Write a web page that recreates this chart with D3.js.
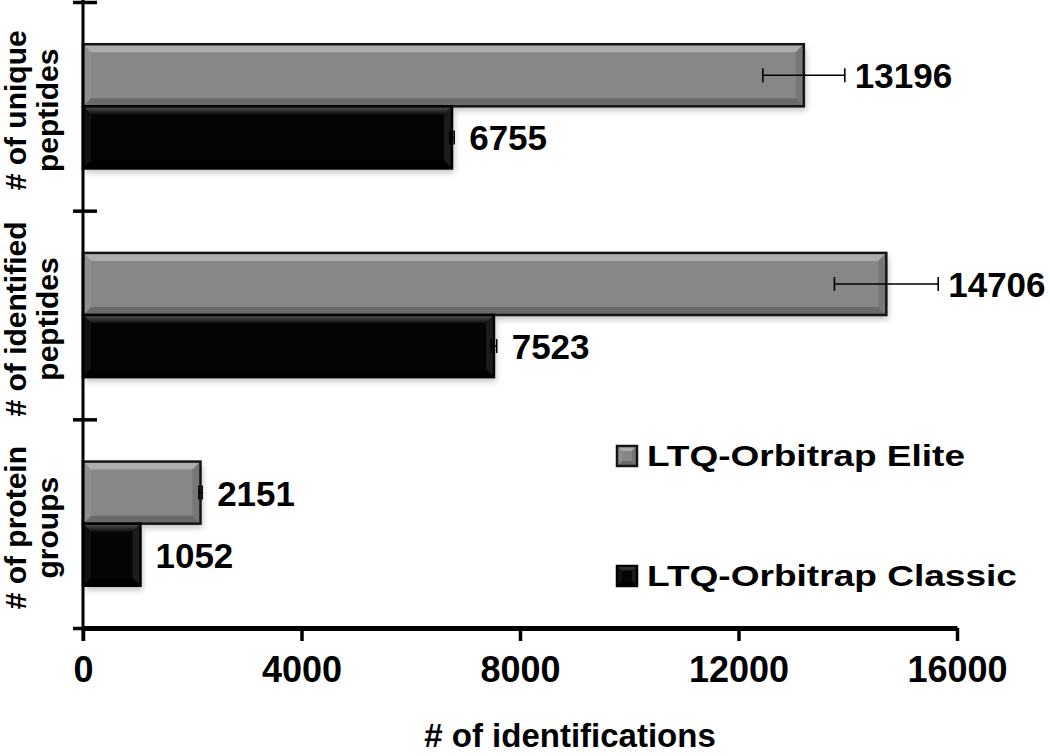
<!DOCTYPE html>
<html>
<head>
<meta charset="utf-8">
<script src="https://cdn.jsdelivr.net/npm/d3@7"></script>
<style>
  body { margin: 0; background: #fff; }
  text { font-family: "Liberation Sans", Arial, sans-serif; font-weight: bold; fill: #000; }
</style>
</head>
<body>
<div id="chart"></div>
<script>
// data
var categories = ["unique", "identified", "groups"];
var categoryLines = [["# of unique", "peptides"], ["# of identified", "peptides"], ["# of protein", "groups"]];
var series = ["LTQ-Orbitrap Elite", "LTQ-Orbitrap Classic"];
var eliteValues = [13196, 14706, 2151];
var classicValues = [6755, 7523, 1052];
var eliteErrors = [750, 950, 30];
var classicErrors = [40, 50, 0];
var xTicks = [0, 4000, 8000, 12000, 16000];

var svgWidth = 1050;
var svgHeight = 756;

var svg = d3.select("#chart").append("svg")
  .attr("width", svgWidth)
  .attr("height", svgHeight);

var defs = svg.append("defs");
defs.append("filter").attr("id", "shadow")
  .attr("x", "-5%").attr("y", "-20%").attr("width", "110%").attr("height", "160%")
  .append("feGaussianBlur").attr("stdDeviation", 3);

var grad = defs.append("linearGradient").attr("id", "blackTop")
  .attr("x1", 0).attr("y1", 0).attr("x2", 0).attr("y2", 1);
grad.append("stop").attr("offset", "0%").attr("stop-color", "#555");
grad.append("stop").attr("offset", "100%").attr("stop-color", "#111");

// scales
var x = d3.scaleLinear().domain([0, 16000]).range([83, 957]);
var y = d3.scaleBand().domain(categories).range([2, 628]).paddingInner(0).paddingOuter(0);
var ySub = d3.scaleBand().domain(series).range([0, y.bandwidth()]).paddingInner(0).paddingOuter(0.68);
var yLin = d3.scaleLinear().domain([0, categories.length]).range([628, 2]);

var styles = {
  "LTQ-Orbitrap Elite": { fill: "#878787", top: "#adadad", bottom: "#6a6a6a", right: "#777", left: "#8f8f8f", stroke: "#151515" },
  "LTQ-Orbitrap Classic": { fill: "#050505", top: "url(#blackTop)", bottom: "#000", right: "#1c1c1c", left: "#111", stroke: "#000" }
};

var rows = [];
categories.forEach(function(c, i) {
  rows.push({ cat: c, s: series[0], v: eliteValues[i], e: eliteErrors[i] });
  rows.push({ cat: c, s: series[1], v: classicValues[i], e: classicErrors[i] });
});

function bevelBar(g, w, h, st, b) {
  g.append("rect").attr("x", 2).attr("y", 4).attr("width", w).attr("height", h)
    .attr("fill", "#8a8a8a").attr("opacity", 0.55).attr("filter", "url(#shadow)");
  g.append("rect").attr("width", w).attr("height", h).attr("fill", st.fill);
  g.append("polygon").attr("points", [[0, 0], [w, 0], [w - b, b], [b, b]].join(" ")).attr("fill", st.top);
  g.append("polygon").attr("points", [[0, h], [w, h], [w - b, h - b], [b, h - b]].join(" ")).attr("fill", st.bottom);
  g.append("polygon").attr("points", [[w, 0], [w, h], [w - b, h - b], [w - b, b]].join(" ")).attr("fill", st.right);
  g.append("polygon").attr("points", [[0, 0], [0, h], [b, h - b], [b, b]].join(" ")).attr("fill", st.left);
  g.append("rect").attr("width", w).attr("height", h).attr("fill", "none")
    .attr("stroke", st.stroke).attr("stroke-width", 2.5);
}

// bars
var bars = svg.append("g").selectAll("g")
  .data(rows)
  .enter()
  .append("g")
  .attr("transform", d => `translate(${x(0)}, ${y(d.cat) + ySub(d.s)})`);

bars.each(function(d) {
  bevelBar(d3.select(this), x(d.v) - x(0), ySub.bandwidth(), styles[d.s], 8);
});

// error bars
var errs = svg.append("g").selectAll("g")
  .data(rows.filter(d => d.e > 0))
  .enter()
  .append("g")
  .attr("stroke", "#000")
  .attr("stroke-width", 1.6);

errs.append("line")
  .attr("x1", d => x(d.v - d.e))
  .attr("x2", d => x(d.v + d.e))
  .attr("y1", d => y(d.cat) + ySub(d.s) + ySub.bandwidth() / 2)
  .attr("y2", d => y(d.cat) + ySub(d.s) + ySub.bandwidth() / 2);
[-1, 1].forEach(function(sign) {
  errs.append("line")
    .attr("x1", d => x(d.v + sign * d.e))
    .attr("x2", d => x(d.v + sign * d.e))
    .attr("y1", d => y(d.cat) + ySub(d.s) + ySub.bandwidth() / 2 - 7)
    .attr("y2", d => y(d.cat) + ySub(d.s) + ySub.bandwidth() / 2 + 7);
});

// value labels
svg.append("g").selectAll("text")
  .data(rows)
  .enter()
  .append("text")
  .attr("x", d => x(d.v + d.e) + (d.e > 500 ? 10 : 15))
  .attr("y", d => y(d.cat) + ySub(d.s) + ySub.bandwidth() / 2 + 13)
  .attr("font-size", "35px")
  .text(d => d.v);

// x axis
var xAxis = d3.axisBottom(x).tickValues(xTicks).tickSize(13).tickSizeOuter(0).tickPadding(15)
  .tickFormat(d3.format("d"));
var gx = svg.append("g")
  .attr("transform", `translate(0, ${yLin(0)})`)
  .call(xAxis);
gx.select(".domain").attr("stroke", "#000").attr("stroke-width", 5);
gx.selectAll(".tick line").attr("stroke", "#000").attr("stroke-width", 3.5);
gx.selectAll(".tick text")
  .attr("font-size", "36px")
  .attr("font-family", "Liberation Sans, Arial, sans-serif")
  .attr("font-weight", "bold")
  .attr("fill", "#000");

// y axis
var yAxis = d3.axisLeft(yLin).tickValues(d3.range(categories.length + 1)).tickSizeInner(10).tickSizeOuter(0).tickFormat("");
var gy = svg.append("g")
  .attr("transform", `translate(${x(0)}, 0)`)
  .call(yAxis);
gy.select(".domain").remove();
gy.selectAll(".tick line").attr("x1", 14).attr("x2", -10).attr("stroke", "#000").attr("stroke-width", 3.5);
gy.append("line")
  .attr("x1", 0).attr("x2", 0)
  .attr("y1", 0).attr("y2", yLin(0) + 13)
  .attr("stroke", "#000").attr("stroke-width", 3);

// category labels
var catLabels = svg.append("g").selectAll("text")
  .data(categories)
  .enter()
  .append("text")
  .attr("transform", d => `translate(0, ${y(d) + y.bandwidth() / 2 + 4}) rotate(-90)`)
  .attr("text-anchor", "middle")
  .attr("font-size", "30px");
catLabels.append("tspan").attr("x", 0).attr("y", 26).text((d, i) => categoryLines[i][0]);
catLabels.append("tspan").attr("x", 0).attr("y", 58).text((d, i) => categoryLines[i][1]);

// axis title
svg.append("text")
  .attr("x", 570)
  .attr("y", 747)
  .attr("text-anchor", "middle")
  .attr("font-size", "33px")
  .text("# of identifications");

// legend
var legendY = [446, 566];
var legendLen = [318, 370];
var legend = svg.append("g").selectAll("g")
  .data(series)
  .enter()
  .append("g")
  .attr("transform", (d, i) => `translate(617, ${legendY[i]})`);
legend.each(function(d) {
  bevelBar(d3.select(this).append("g"), 20, 20, styles[d], 5);
});
legend.selectAll("rect[filter]").remove();
legend.append("text")
  .attr("x", 30)
  .attr("y", 20)
  .attr("font-size", "30px")
  .attr("textLength", (d, i) => legendLen[i])
  .attr("lengthAdjust", "spacingAndGlyphs")
  .text(d => d);
</script>
</body>
</html>
